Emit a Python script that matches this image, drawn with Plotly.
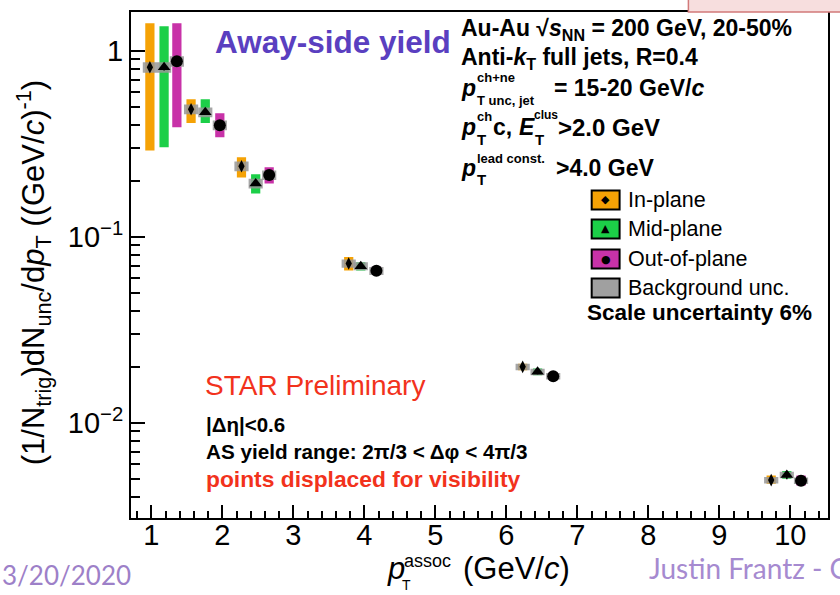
import plotly.graph_objects as go

# ---- away-side yields per event-plane bin (points displaced in pT for visibility) ----
pt_in = [0.98, 1.56, 2.27, 3.78, 6.23, 9.73]
y_in = [0.817, 0.486, 0.240, 0.0719, 0.0200, 0.00492]
sys_in_lo = [0.292, 0.41, 0.209, 0.066, 0.0192, 0.0047]
sys_in_hi = [1.41, 0.55, 0.268, 0.078, 0.0208, 0.0052]

pt_mid = [1.18, 1.76, 2.47, 3.95, 6.44, 9.95]
y_mid = [0.817, 0.468, 0.194, 0.0696, 0.0188, 0.00524]
sys_mid_lo = [0.304, 0.41, 0.171, 0.066, 0.0180, 0.0050]
sys_mid_hi = [1.36, 0.55, 0.217, 0.073, 0.0196, 0.0055]

pt_out = [1.36, 1.965, 2.66, 4.17, 6.66, 10.15]
y_out = [0.88, 0.399, 0.215, 0.0657, 0.0178, 0.00488]
sys_out_lo = [0.389, 0.344, 0.194, 0.063, 0.0170, 0.0046]
sys_out_hi = [1.41, 0.462, 0.237, 0.069, 0.0186, 0.0052]

# relative background-subtraction uncertainty (gray boxes)
bkg_rel = [0.065, 0.06, 0.06, 0.05, 0.04, 0.04]
# relative statistical uncertainty
stat_rel = [0.04, 0.03, 0.03, 0.02, 0.03, 0.05]

x_ticks = [1, 2, 3, 4, 5, 6, 7, 8, 9, 10]
y_ticks = [0.01, 0.1, 1]
y_tick_text = ["10<sup>\u22122</sup>", "10<sup>\u22121</sup>", "1"]

ORANGE = "#f5a205"
GREEN = "#1ccf48"
MAGENTA = "#c832a8"
GRAY = "rgba(150,150,150,0.85)"
RED = "#f2321c"
FONT = "Liberation Sans"

W, H = 840, 595
X0, X1, Y0, Y1 = 131, 830, 12, 518   # plot frame in window pixels


def px(x):
    return (x - X0) / (X1 - X0)


def py(y):
    return (Y1 - y) / (Y1 - Y0)


def boxes(xs, lo, hi, half_w):
    bx, by = [], []
    for x, a, b in zip(xs, lo, hi):
        bx += [x - half_w, x + half_w, x + half_w, x - half_w, x - half_w, None]
        by += [a, a, b, b, a, None]
    return bx, by


fig = go.Figure()

series = [
    (pt_in, y_in, sys_in_lo, sys_in_hi, ORANGE, "diamond-tall", 9),
    (pt_mid, y_mid, sys_mid_lo, sys_mid_hi, GREEN, "triangle-up", 11),
    (pt_out, y_out, sys_out_lo, sys_out_hi, MAGENTA, "circle", 12),
]

# systematic boxes
for xs, ys, lo, hi, col, sym, size in series:
    bx, by = boxes(xs, lo, hi, 0.065)
    fig.add_trace(go.Scatter(x=bx, y=by, mode="lines", fill="toself",
                             fillcolor=col, line=dict(width=0),
                             hoverinfo="skip", showlegend=False))

# background uncertainty boxes
for xs, ys, lo, hi, col, sym, size in series:
    blo = [v * (1 - r) for v, r in zip(ys, bkg_rel)]
    bhi = [v * (1 + r) for v, r in zip(ys, bkg_rel)]
    bx, by = boxes(xs, blo, bhi, 0.1)
    fig.add_trace(go.Scatter(x=bx, y=by, mode="lines", fill="toself",
                             fillcolor=GRAY, line=dict(width=0),
                             hoverinfo="skip", showlegend=False))

# data points with statistical errors
for xs, ys, lo, hi, col, sym, size in series:
    fig.add_trace(go.Scatter(
        x=xs, y=ys, mode="markers",
        marker=dict(symbol=sym, size=size, color="black"),
        error_y=dict(type="data", array=[v * r for v, r in zip(ys, stat_rel)],
                     color="black", thickness=1.5, width=0),
        showlegend=False))

annotations = []


def note(text, x, y, size, color="black", bold=False, anchor="left", family=FONT, angle=0):
    if bold:
        text = "<b>" + text + "</b>"
    annotations.append(dict(text=text, x=px(x), y=py(y), xref="paper", yref="paper",
                            xanchor=anchor, yanchor="middle", showarrow=False,
                            textangle=angle,
                            font=dict(size=size, color=color, family=family)))


# headline
note("Away-side yield", 213, 42, 31.5, color="#5a3fc0", bold=True)

# collision / jet selection block
note("Au-Au \u221a<i>s</i><sub>NN</sub> = 200 GeV, 20-50%", 460, 29, 23, bold=True)
note("Anti-<i>k</i><sub>T</sub> full jets, R=0.4", 460, 58, 23, bold=True)
note("<i>p</i>", 460, 88, 23, bold=True)
note("ch+ne", 476, 77, 13, bold=True)
note("T unc, jet", 476, 101, 13, bold=True)
note("= 15-20 GeV/<i>c</i>", 553, 88, 23, bold=True)
note("<i>p</i>", 460, 127, 23, bold=True)
note("ch", 476, 116, 13, bold=True)
note("T", 476, 139, 15, bold=True)
note("c,", 492, 127, 23, bold=True)
note("<i>E</i>", 518, 127, 23, bold=True)
note("clus", 533, 115, 12, bold=True)
note("T", 534, 139, 15, bold=True)
note(">2.0 GeV", 557, 127, 24, bold=True)
note("<i>p</i>", 460, 168, 23, bold=True)
note("lead const.", 476, 158, 13, bold=True)
note("T", 476, 180, 15, bold=True)
note(">4.0 GeV", 555, 168, 23, bold=True)

# legend
shapes = []
legend_rows = [
    (ORANGE, "\u25c6", "In-plane", 200),
    (GREEN, "\u25b2", "Mid-plane", 229),
    (MAGENTA, "\u25cf", "Out-of-plane", 259),
    ("#a0a0a0", "", "Background unc.", 288),
]
for col, glyph, label, yc in legend_rows:
    shapes.append(dict(type="rect", xref="paper", yref="paper",
                       x0=px(593), x1=px(621), y0=py(yc - 9.5), y1=py(yc + 9.5),
                       fillcolor=col, line=dict(color="black", width=2)))
    if glyph:
        note(glyph, 607, yc, 11, anchor="center", family="DejaVu Sans")
    note(label, 627, yc, 21.5)
note("Scale uncertainty 6%", 586, 312, 22.5, bold=True)

# lower-left labels
note("STAR Preliminary", 203, 385, 28, color=RED)
note("|\u0394\u03b7|<0.6", 204, 424, 20.5, bold=True)
note("AS yield range: 2\u03c0/3 < \u0394\u03c6 < 4\u03c0/3", 204, 451, 20.7, bold=True)
note("points displaced for visibility", 204, 479, 22.8, color=RED, bold=True)

# axis titles
note("(1/N<sub>trig</sub>)dN<sub>unc</sub>/d<i>p</i><sub>T</sub> ((GeV/<i>c</i>)<sup>-1</sup>)",
     33, 273, 31, anchor="center", angle=-90)
note("<i>p</i>", 386, 568, 31)
note("assoc", 403, 561, 18)
note("T", 401, 585, 14)
note("(GeV/<i>c</i>)", 462, 568, 31)

# slide footer
note("3/20/2020", 0, 575, 26, color="#9d80c8", family="Lato")
note("Justin Frantz - C", 648, 568, 28, color="#a68ad0", family="Lato")

# header box from the slide at top right
shapes.append(dict(type="rect", xref="paper", yref="paper",
                   x0=px(690), x1=px(845), y0=py(12), y1=py(-5),
                   fillcolor="#f7dede", line=dict(color="#d27a7a", width=1.5),
                   layer="above"))

minor_y = [m * 10.0 ** e for e in (-3, -2, -1) for m in range(2, 10)]

fig.update_layout(
    width=W, height=H,
    margin=dict(l=X0, r=W - X1, t=Y0, b=H - Y1),
    paper_bgcolor="white", plot_bgcolor="white",
    showlegend=False,
    annotations=annotations,
    shapes=shapes,
    font=dict(family=FONT, color="black"),
)
fig.update_xaxes(
    range=[0.714, 10.53], tickvals=x_ticks, ticks="inside", ticklen=13, tickwidth=1.5,
    tickcolor="black", showline=True, linecolor="black", linewidth=2, mirror=True,
    showgrid=False, zeroline=False, tickfont=dict(size=29, family=FONT),
    ticklabelstandoff=-10,
    minor=dict(dtick=0.2, tick0=0, ticks="inside", ticklen=7, tickwidth=1.5,
               tickcolor="black", showgrid=False),
)
fig.update_yaxes(
    type="log", range=[-2.512, 0.2097], tickvals=y_ticks, ticktext=y_tick_text,
    ticks="inside", ticklen=14, tickwidth=1.5, tickcolor="black",
    showline=True, linecolor="black", linewidth=2, mirror=True,
    showgrid=False, zeroline=False, tickfont=dict(size=29, family=FONT),
    minor=dict(tickvals=minor_y, ticks="inside", ticklen=9, tickwidth=1.5,
               tickcolor="black", showgrid=False),
)

fig.write_html("out.html")
